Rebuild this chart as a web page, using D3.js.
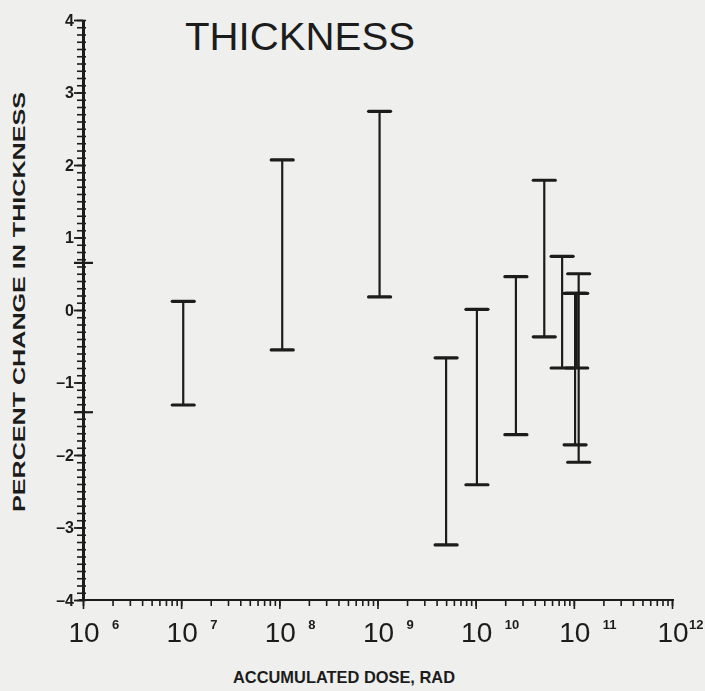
<!DOCTYPE html>
<html>
<head>
<meta charset="utf-8">
<script src="https://cdn.jsdelivr.net/npm/d3@7"></script>
<style>
  html, body { margin: 0; padding: 0; background: #efefed; }
  text { font-family: 'Liberation Sans', Arial, sans-serif; fill: #1c1c1c; }
</style>
</head>
<body>
<div id="chart"></div>
<script>
// error bars: dose (rad), top and bottom of each bar (%)
const doses = [1.05e7, 1.07e8, 1.05e9, 5.0e9, 1.03e10, 2.57e10, 5.0e10, 7.6e10, 1.12e11, 1.03e11, 1.07e11]
const highs = [0.12, 2.07, 2.74, -0.66, 0.01, 0.46, 1.79, 0.74, 0.5, 0.23, 0.23]
const lows = [-1.31, -0.55, 0.18, -3.24, -2.41, -1.72, -0.37, -0.8, -2.1, -1.86, -0.8]

const decades = [6, 7, 8, 9, 10, 11, 12]
const yTickValues = [4, 3, 2, 1, 0, -1, -2, -3, -4]
const yTickLabels = ['4', '3', '2', '1', '0', '\u20131', '\u20132', '\u20133', '\u20134']
const refMarks = [0.65, -1.41]

const margin = { top: 20, left: 83, right: 33, bottom: 91 }
const width = 705 - margin.left - margin.right
const height = 691 - margin.top - margin.bottom

const root = d3
  .select('#chart')
  .append('svg')
  .attr('width', 705)
  .attr('height', 691)

root.append('defs')
  .append('filter')
  .attr('id', 'scan')
  .append('feGaussianBlur')
  .attr('stdDeviation', 0.55)

const svg = root
  .append('g')
  .attr('transform', 'translate(' + margin.left + ',' + margin.top + ')')
  .attr('filter', 'url(#scan)')

const xPositionScale = d3.scaleLog().domain([1e6, 1e12]).range([0, width])
const yPositionScale = d3.scaleLinear().domain([-4, 4]).range([height, 0])

// x axis: minor log ticks, then decade ticks
const xMinor = svg.append('g')
  .attr('transform', 'translate(0,' + height + ')')
  .call(d3.axisBottom(xPositionScale).tickValues(xPositionScale.ticks()).tickSize(6).tickSizeOuter(0).tickFormat(''))
const xMajor = svg.append('g')
  .attr('transform', 'translate(0,' + height + ')')
  .call(d3.axisBottom(xPositionScale).tickValues(decades.map(d => Math.pow(10, d))).tickSize(9).tickSizeOuter(0).tickFormat(''))

xMinor.select('.domain').attr('stroke-width', 2.2).attr('stroke', '#1c1c1c').attr('d', 'M-4,0H' + (width + 2))
xMajor.select('.domain').remove()
svg.selectAll('.tick line').attr('stroke', '#1c1c1c').attr('stroke-width', 1.6)

// decade labels "10" with exponent
const xLabels = svg.append('g').attr('class', 'x-labels')
xLabels.selectAll('.ten')
  .data(decades)
  .enter()
  .append('text')
  .attr('class', 'ten')
  .attr('x', d => xPositionScale(Math.pow(10, d)) + 1)
  .attr('y', height + 42)
  .attr('text-anchor', 'middle')
  .attr('font-size', 28)
  .text('10')
xLabels.selectAll('.exp')
  .data(decades)
  .enter()
  .append('text')
  .attr('class', 'exp')
  .attr('x', d => Math.min(xPositionScale(Math.pow(10, d)) + 29, width + margin.right - 16))
  .attr('y', height + 29)
  .attr('font-size', 13)
  .attr('font-weight', 'bold')
  .text(d => d)

// y axis: dense 0.1 ticks on both sides, longer integer ticks with labels
const yMinorValues = d3.range(-40, 41).map(d => d / 10)
svg.append('g')
  .call(d3.axisLeft(yPositionScale).tickValues(yMinorValues).tickSize(6).tickSizeOuter(0).tickFormat(''))
  .call(g => g.select('.domain').attr('stroke-width', 3).attr('stroke', '#1c1c1c'))
  .call(g => g.selectAll('.tick line').attr('stroke', '#1c1c1c').attr('stroke-width', 1.6))
svg.append('g')
  .call(d3.axisRight(yPositionScale).tickValues(yMinorValues).tickSize(3).tickSizeOuter(0).tickFormat(''))
  .call(g => g.select('.domain').remove())
  .call(g => g.selectAll('.tick line').attr('stroke', '#1c1c1c').attr('stroke-width', 1.6))
svg.append('g')
  .call(d3.axisLeft(yPositionScale).tickValues(yTickValues).tickSize(9).tickSizeOuter(0).tickFormat((d, i) => yTickLabels[i]))
  .call(g => g.select('.domain').remove())
  .call(g => g.selectAll('.tick line').attr('stroke', '#1c1c1c').attr('stroke-width', 1.8))
  .call(g => g.selectAll('.tick text')
    .attr('font-family', "'Liberation Sans', Arial, sans-serif")
    .attr('font-size', 16)
    .attr('font-weight', 'bold')
    .attr('fill', '#1c1c1c')
    .attr('x', -9))

// two long marks crossing the y axis
svg.selectAll('.ref-mark')
  .data(refMarks)
  .enter()
  .append('line')
  .attr('class', 'ref-mark')
  .attr('x1', -9)
  .attr('x2', 10)
  .attr('y1', d => yPositionScale(d))
  .attr('y2', d => yPositionScale(d))
  .attr('stroke', '#1c1c1c')
  .attr('stroke-width', 2.2)

// error bars
const bars = doses.map((d, i) => ({ dose: d, high: highs[i], low: lows[i] }))
const cap = 11

svg.selectAll('.bar-stem')
  .data(bars)
  .enter()
  .append('line')
  .attr('class', 'bar-stem')
  .attr('x1', d => xPositionScale(d.dose))
  .attr('x2', d => xPositionScale(d.dose))
  .attr('y1', d => yPositionScale(d.high))
  .attr('y2', d => yPositionScale(d.low))
  .attr('stroke', '#1c1c1c')
  .attr('stroke-width', 2.2)

svg.selectAll('.bar-cap')
  .data(bars.flatMap(d => [{ dose: d.dose, v: d.high }, { dose: d.dose, v: d.low }]))
  .enter()
  .append('line')
  .attr('class', 'bar-cap')
  .attr('x1', d => xPositionScale(d.dose) - cap)
  .attr('x2', d => xPositionScale(d.dose) + cap)
  .attr('y1', d => yPositionScale(d.v))
  .attr('y2', d => yPositionScale(d.v))
  .attr('stroke', '#1c1c1c')
  .attr('stroke-width', 3.2)
  .attr('stroke-linecap', 'round')

// titles
root.append('text')
  .attr('x', 185)
  .attr('y', 50)
  .attr('font-size', 38)
  .attr('textLength', 230)
  .attr('lengthAdjust', 'spacingAndGlyphs')
  .text('THICKNESS')

root.append('text')
  .attr('transform', 'translate(25,302) rotate(-90)')
  .attr('text-anchor', 'middle')
  .attr('font-size', 17)
  .attr('font-weight', 'bold')
  .attr('textLength', 420)
  .attr('lengthAdjust', 'spacingAndGlyphs')
  .text('PERCENT CHANGE IN THICKNESS')

root.append('text')
  .attr('x', 344)
  .attr('y', 683)
  .attr('text-anchor', 'middle')
  .attr('font-size', 17)
  .attr('font-weight', 'bold')
  .attr('textLength', 222)
  .attr('lengthAdjust', 'spacingAndGlyphs')
  .text('ACCUMULATED DOSE, RAD')
</script>
</body>
</html>
